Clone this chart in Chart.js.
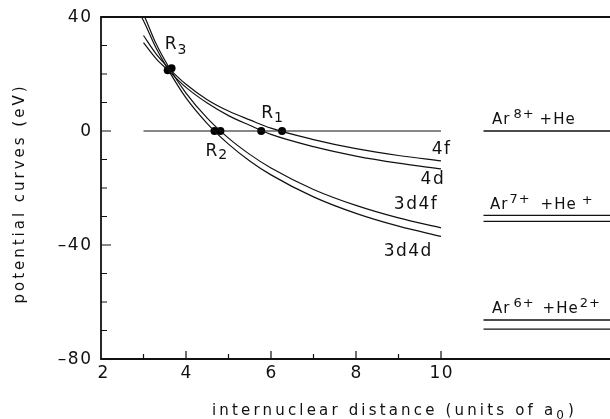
<!DOCTYPE html>
<html>
<head>
<meta charset="utf-8">
<script src="https://cdn.jsdelivr.net/npm/chart.js@4.4.1/dist/chart.umd.min.js"></script>
<style>
html, body { margin: 0; padding: 0; background: #fff; overflow: hidden; }
#wrap { width: 700px; height: 419px; }
</style>
</head>
<body>
<div id="wrap"><canvas id="chart" width="700" height="419"></canvas></div>
<script>
// internuclear distance (units of a0) for each curve
var r4 = [3, 3.3, 3.6, 4, 4.5, 5, 5.5, 6, 7, 8, 9, 10];
var r3d4 = [2.9, 3, 3.3, 3.6, 4, 4.5, 5, 5.5, 6, 7, 8, 9, 10];

// potential curves (eV)
var v4f = [33.5, 27, 22, 16.4, 11, 7, 3.9, 1.0, -3.0, -6.2, -8.6, -10.5];
var v4d = [31, 25.3, 21, 15.3, 9.8, 5.4, 2.0, -1.2, -5.5, -8.8, -11.3, -13.3];
var v3d4f = [44, 41, 30.5, 22.3, 13.3, 4.5, -2.5, -8.2, -13, -20.5, -26.1, -30.5, -34];
var v3d4d = [41.5, 38.7, 29, 21, 11.6, 2.6, -4.6, -10.5, -15.4, -23.1, -28.9, -33.4, -37];

// curve crossings R3, R2, R1
var crossR = [3.57, 3.66, 4.67, 4.81, 5.77, 6.26];
var crossV = [21.3, 22, 0, 0, 0, 0];

// asymptotic levels
var levelR = [11, 16];
var levelAr8 = [0];
var levelAr7 = [-29.6, -31.7];
var levelAr6 = [-66.3, -69.5];
var zeroR = [3, 10];

var xTickLabels = [2, 4, 6, 8, 10];
var yTickLabels = [40, 0, -40, -80];

var FONT = '"DejaVu Sans", sans-serif';
var INK = '#111';

function pts(xs, ys) {
    return ys.map(function (y, i) { return {x: xs[i], y: y}; });
}

function curve(xs, ys) {
    return {
        data: pts(xs, ys),
        showLine: true,
        borderColor: INK,
        borderWidth: 1.2,
        pointRadius: 0,
        cubicInterpolationMode: 'monotone'
    };
}

function level(v) {
    return {
        data: pts(levelR, [v, v]),
        showLine: true,
        borderColor: INK,
        borderWidth: 1.4,
        pointRadius: 0
    };
}

var datasets = [
    curve(r4, v4f),
    curve(r4, v4d),
    curve(r3d4, v3d4f),
    curve(r3d4, v3d4d),
    {
        data: pts(zeroR, [0, 0]),
        showLine: true,
        borderColor: INK,
        borderWidth: 1.2,
        pointRadius: 0
    }
];
levelAr8.concat(levelAr7, levelAr6).forEach(function (v) {
    datasets.push(level(v));
});
datasets.push({
    data: pts(crossR, crossV),
    showLine: false,
    pointRadius: 4,
    pointBackgroundColor: '#000',
    pointBorderWidth: 0
});

function text(ctx, s, x, y, size, spacing, align, baseline) {
    ctx.font = size + 'px ' + FONT;
    ctx.letterSpacing = (spacing || 0) + 'px';
    ctx.textAlign = align || 'left';
    ctx.textBaseline = baseline || 'alphabetic';
    if (align === 'right') x += spacing || 0;
    if (align === 'center') x += (spacing || 0) / 2;
    ctx.fillText(s, x, y);
    return ctx.measureText(s).width;
}

// label made of runs: [text, dy, size, gap before]
function runs(ctx, parts, x, y, spacing) {
    parts.forEach(function (p) {
        if (p[3]) x += p[3];
        x += text(ctx, p[0], x, y + p[1], p[2], spacing, 'left');
    });
}

function fitted(ctx, s, size, width) {
    ctx.font = size + 'px ' + FONT;
    ctx.letterSpacing = '0px';
    var w = ctx.measureText(s).width;
    return (width - w) / s.length;
}

var decor = {
    id: 'decor',
    afterDraw: function (chart) {
        var ctx = chart.ctx,
            a = chart.chartArea,
            xs = chart.scales.x,
            ys = chart.scales.y;
        var px = function (v) { return xs.getPixelForValue(v); };
        var py = function (v) { return ys.getPixelForValue(v); };

        ctx.save();
        ctx.strokeStyle = INK;
        ctx.lineWidth = 1.8;
        ctx.beginPath();
        ctx.moveTo(a.right, a.top);
        ctx.lineTo(a.left, a.top);
        ctx.lineTo(a.left, a.bottom);
        ctx.lineTo(a.right, a.bottom);
        ctx.stroke();

        // inward ticks
        ctx.lineWidth = 1.2;
        ctx.beginPath();
        for (var t = -70; t <= 30; t += 10) {
            var len = (t % 40 === 0) ? 10 : 6;
            ctx.moveTo(a.left, py(t));
            ctx.lineTo(a.left + len, py(t));
        }
        for (var r = 3; r <= 10; r++) {
            var l = (r % 2 === 0) ? 8 : 5;
            ctx.moveTo(px(r), a.bottom);
            ctx.lineTo(px(r), a.bottom - l);
        }
        ctx.stroke();

        ctx.fillStyle = INK;
        yTickLabels.forEach(function (v) {
            text(ctx, v < 0 ? '\u2013' + Math.abs(v) : String(v), a.left - 10, py(v) + 1, 17, 1.5, 'right', 'middle');
        });
        xTickLabels.forEach(function (v) {
            text(ctx, String(v), px(v) + (v === 2 ? 2 : 0), a.bottom + 19, 17, 1.5, 'center', 'alphabetic');
        });

        // axis titles
        ctx.save();
        ctx.translate(20, 195);
        ctx.rotate(-Math.PI / 2);
        var yt = 'potential curves (eV)';
        text(ctx, yt, 0, 0, 15, fitted(ctx, yt, 15, 220), 'center', 'middle');
        ctx.restore();

        var xt = 'internuclear distance (units of a';
        var sp = fitted(ctx, xt + '0)', 15, 366);
        var w = text(ctx, xt, 212, 415, 15, sp, 'left');
        var w2 = text(ctx, '0', 212 + w, 419, 12, sp, 'left');
        text(ctx, ')', 212 + w + w2 + 1, 415, 15, sp, 'left');

        // curve names
        text(ctx, '4f', px(9.78), py(-8.1), 17, 1.5, 'left');
        text(ctx, '4d', px(9.52), py(-18.6), 17, 1.5, 'left');
        text(ctx, '3d4f', px(8.89), py(-27.5), 17, 1.5, 'left');
        text(ctx, '3d4d', px(8.65), py(-44), 17, 1.5, 'left');

        // crossing names
        runs(ctx, [['R', 0, 17], ['3', 5, 14, 0]], px(3.5), py(28.9), 1);
        runs(ctx, [['R', 0, 17], ['1', 4, 14, 0]], px(5.77), py(4.4), 1);
        runs(ctx, [['R', 0, 17], ['2', 3, 14, 0]], px(4.46), py(-8.8), 1);

        // asymptotic channel names
        var x0 = px(11.2);
        runs(ctx, [['Ar', 0, 15], ['8+', -6, 13, 3], ['+He', 0, 15, 5]], x0, py(levelAr8[0]) - 7, 1);
        runs(ctx, [['Ar', 0, 15], ['7+', -6, 13, 1], ['+He', 0, 15, 10], ['+', -5, 13, 5]], x0 - 2, py(levelAr7[0]) - 6, 1);
        runs(ctx, [['Ar', 0, 15], ['6+', -6, 13, 3], ['+He', 0, 15, 8], ['2+', -6, 13, 1]], x0, py(levelAr6[0]) - 7, 1);
        ctx.restore();
    }
};

new Chart(document.getElementById('chart'), {
    type: 'scatter',
    data: {datasets: datasets},
    options: {
        responsive: false,
        animation: false,
        events: [],
        layout: {padding: {left: 101, top: 17, right: 1, bottom: 60}},
        plugins: {legend: {display: false}, tooltip: {enabled: false}},
        scales: {
            x: {type: 'linear', min: 2, max: 16, display: false},
            y: {type: 'linear', min: -80, max: 40, display: false}
        }
    },
    plugins: [decor]
});
</script>
</body>
</html>
